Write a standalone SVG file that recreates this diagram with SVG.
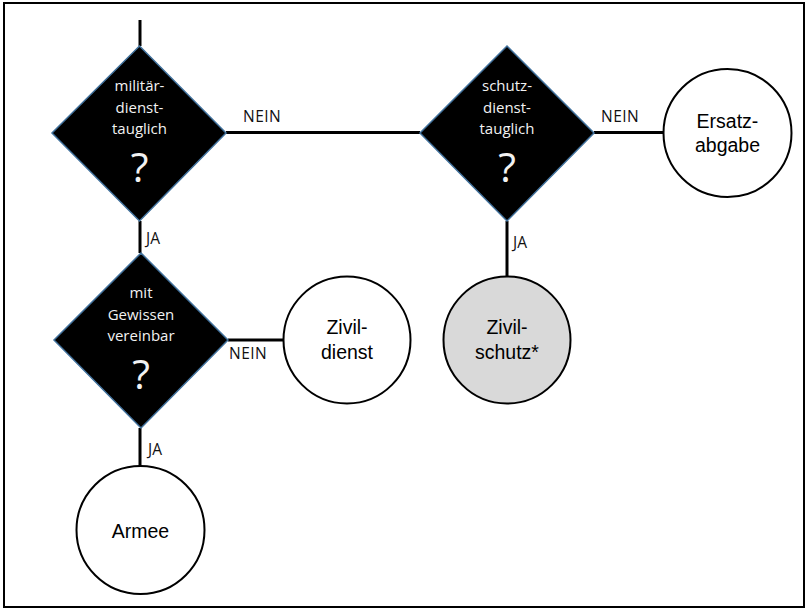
<svg xmlns="http://www.w3.org/2000/svg" width="808" height="612" viewBox="0 0 808 612">
<style>
.frame{fill:#fff;stroke:#000;stroke-width:2}
.dia{fill:#000;stroke:#41719c;stroke-width:1.5}
.circ{fill:#fff;stroke:#000;stroke-width:2}
.gray{fill:#d9d9d9}
.con{stroke:#000;stroke-width:3;fill:none}
.dt{font-family:"Open Sans","Liberation Sans",sans-serif;font-size:15px;fill:#f2f2f2;text-anchor:middle}
.q{font-family:"Open Sans","Liberation Sans",sans-serif;font-size:41px;fill:#f2f2f2;text-anchor:middle}
.ct{font-family:"Liberation Sans",Arial,sans-serif;font-size:19.5px;fill:#000;text-anchor:middle}
.lb{font-family:"Open Sans","Liberation Sans",sans-serif;font-size:15.5px;fill:#111}
</style>
<rect class="frame" x="4" y="3" width="800" height="604"/>
<g id="connectors">
<line class="con" x1="140" y1="20" x2="140" y2="46"/>
<line class="con" x1="226" y1="132.5" x2="420" y2="132.5"/>
<line class="con" x1="140" y1="221" x2="140" y2="253"/>
<line class="con" x1="228" y1="340" x2="284" y2="340"/>
<line class="con" x1="507" y1="221" x2="507" y2="277"/>
<line class="con" x1="594" y1="132.5" x2="664" y2="132.5"/>
<line class="con" x1="140" y1="428" x2="140" y2="466"/>
<text class="lb" x="243" y="122" letter-spacing="0.5">NEIN</text>
<text class="lb" x="146" y="244">JA</text>
<text class="lb" x="229" y="359" letter-spacing="0.5">NEIN</text>
<text class="lb" x="513" y="248">JA</text>
<text class="lb" x="601" y="122" letter-spacing="0.5">NEIN</text>
<text class="lb" x="148" y="455">JA</text>
</g>
<g id="d-militaer">
<polygon class="dia" points="139.5,46 226,133 139.5,221 52,133"/>
<text class="dt" x="139.5" y="91">militär-</text>
<text class="dt" x="139.5" y="112.5">dienst-</text>
<text class="dt" x="139.5" y="133.5">tauglich</text>
<text class="q" x="139.5" y="182">?</text>
</g>
<g id="d-schutz">
<polygon class="dia" points="507,46 594,133 507,221 420,133"/>
<text class="dt" x="507" y="91">schutz-</text>
<text class="dt" x="507" y="112.5">dienst-</text>
<text class="dt" x="507" y="133.5">tauglich</text>
<text class="q" x="507" y="182">?</text>
</g>
<g id="d-gewissen">
<polygon class="dia" points="141,253 228,340 141,428 54,340"/>
<text class="dt" x="141" y="297.5">mit</text>
<text class="dt" x="141" y="319.5">Gewissen</text>
<text class="dt" x="141" y="340.5">vereinbar</text>
<text class="q" x="141" y="389">?</text>
</g>
<g id="c-zivildienst">
<circle class="circ" cx="347" cy="340" r="63.5"/>
<text class="ct" x="347" y="334">Zivil-</text>
<text class="ct" x="347" y="359">dienst</text>
</g>
<g id="c-zivilschutz">
<circle class="circ gray" cx="507" cy="340" r="63.5"/>
<text class="ct" x="507" y="334">Zivil-</text>
<text class="ct" x="507" y="359">schutz*</text>
</g>
<g id="c-ersatzabgabe">
<circle class="circ" cx="727.5" cy="133" r="64"/>
<text class="ct" x="727.5" y="127.5">Ersatz-</text>
<text class="ct" x="727.5" y="152">abgabe</text>
</g>
<g id="c-armee">
<circle class="circ" cx="140.5" cy="530" r="64"/>
<text class="ct" x="140.5" y="538">Armee</text>
</g>
</svg>
